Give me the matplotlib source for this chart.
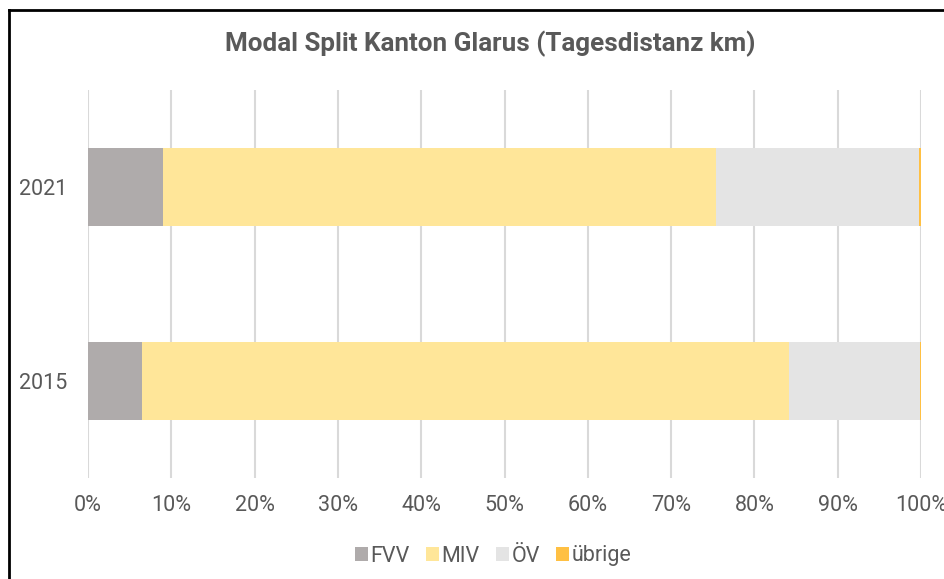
import numpy as np
import matplotlib.pyplot as plt
from matplotlib.lines import Line2D

plt.rcParams['font.family'] = ['Roboto', 'DejaVu Sans']

years = ['2015', '2021']
modes = ['FVV', 'MIV', 'ÖV', 'übrige']
fvv = [6.5, 9.0]
miv = [77.7, 66.4]
oev = [15.7, 24.3]
uebrige = [0.1, 0.3]
colors = ['#AFABAB', '#FFE699', '#E4E4E4', '#FFC043']

fig = plt.figure(figsize=(9.44, 5.79), dpi=100)
ax = fig.add_axes([88/944, 1 - 478/579, (921 - 88)/944, (478 - 90)/579])

y = np.arange(len(years))
left = np.zeros(len(years))
for vals, name, col in zip([fvv, miv, oev, uebrige], modes, colors):
    ax.barh(y, vals, left=left, height=0.40, color=col, label=name, zorder=3)
    left += np.array(vals)

ax.set_xlim(0, 100)
ax.set_ylim(-0.5, 1.5)
ax.set_xticks(np.arange(0, 101, 10))
ax.set_xticklabels([f'{v}%' for v in range(0, 101, 10)])
ax.set_yticks(y)
ax.set_yticklabels(years)
ax.tick_params(axis='both', length=0, labelsize=15.5, colors='#595959')
ax.tick_params(axis='x', pad=12)
ax.tick_params(axis='y', pad=15)
ax.grid(axis='x', color='#D9D9D9', linewidth=1.5, zorder=0)
for s in ax.spines.values():
    s.set_visible(False)

fig.text(490/944, 1 - 44/579, 'Modal Split Kanton Glarus (Tagesdistanz km)',
         ha='center', va='center', fontsize=18.7, fontweight='bold', color='#595959')

ax.legend(loc='center', bbox_to_anchor=(493/944, 1 - 556/579), bbox_transform=fig.transFigure,
          ncol=4, frameon=False, fontsize=15.5, labelcolor='#595959',
          handlelength=0.6, handleheight=0.6, handletextpad=0.12, columnspacing=0.75)

# frame of the embedded chart
fig.add_artist(Line2D([9/944, 1.01], [1 - 10/579, 1 - 10/579], color='black', linewidth=2))
fig.add_artist(Line2D([9/944, 9/944], [1 - 10/579, -0.01], color='black', linewidth=2))

fig.savefig('out.png', dpi=100)
